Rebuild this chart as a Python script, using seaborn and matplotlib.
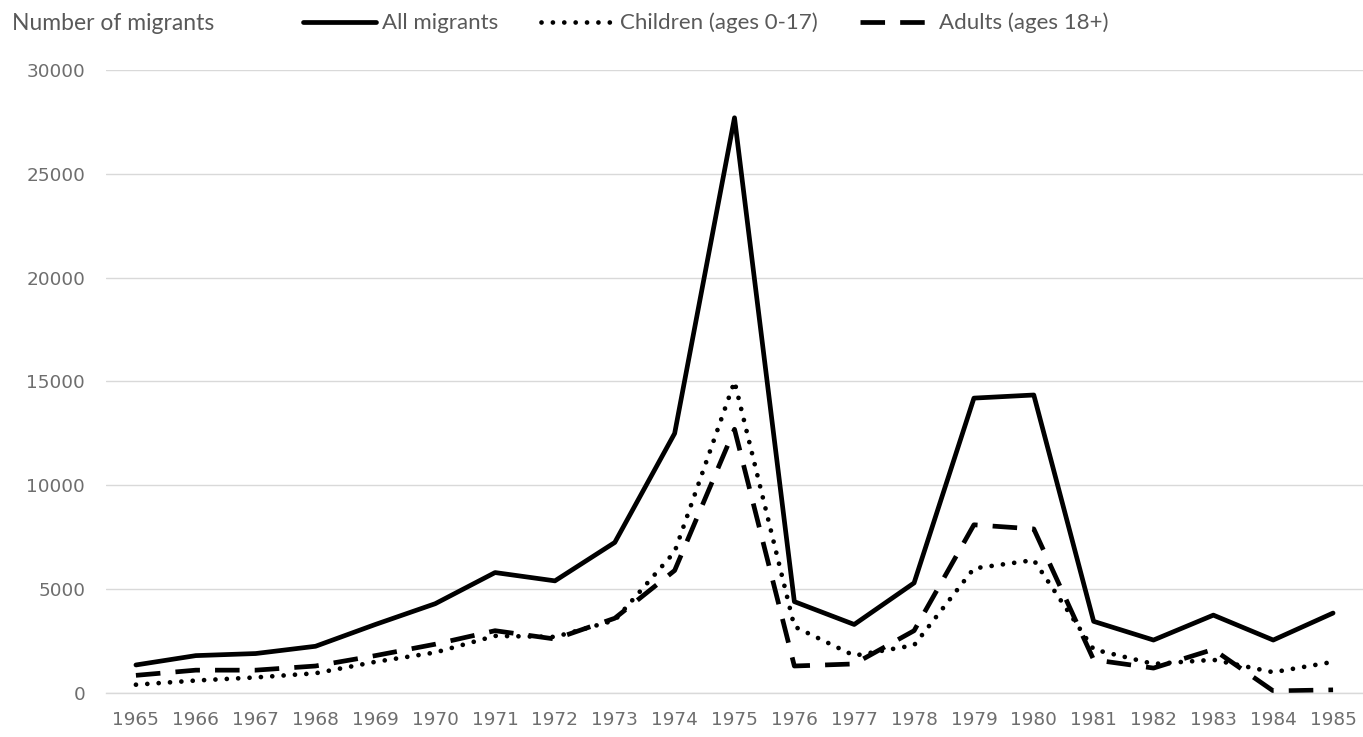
import matplotlib
matplotlib.use('Agg')
import matplotlib.pyplot as plt
import seaborn as sns
import pandas as pd
import numpy as np

years = [str(y) for y in range(1965, 1986)]
all_migrants = [1350, 1800, 1900, 2250, 3300, 4300, 5800, 5400, 7250, 12500, 27700,
                4400, 3300, 5300, 14200, 14350, 3450, 2550, 3750, 2550, 3850]
children = [400, 600, 750, 950, 1500, 1950, 2750, 2700, 3500, 6800, 15000,
            3200, 1800, 2300, 6000, 6400, 2100, 1400, 1600, 1000, 1500]
adults = [850, 1100, 1100, 1300, 1800, 2350, 3000, 2600, 3600, 5900, 12700,
          1300, 1400, 3000, 8100, 7900, 1600, 1200, 2100, 100, 150]

series_names = ['All migrants', 'Children (ages 0-17)', 'Adults (ages 18+)']

df = pd.DataFrame({'year': years, 'All migrants': all_migrants,
                   'Children (ages 0-17)': children, 'Adults (ages 18+)': adults})
df['pos'] = np.arange(len(years))

sns.set_style('white')
plt.rcParams['font.family'] = ['DejaVu Sans']

fig = plt.figure(figsize=(13.63, 7.37), dpi=100)
ax = fig.add_axes([106 / 1363, 1 - 693 / 737, 1 - 106 / 1363, (693 - 70) / 737])

grey_text = '#595959'
tick_text = '#6e6e6e'
grid_col = '#d9d9d9'
label_font = ['Lato', 'DejaVu Sans']

styles = {
    'All migrants': dict(linestyle='-'),
    'Children (ages 0-17)': dict(linestyle=(0, (0.01, 2.4)), dash_capstyle='round'),
    'Adults (ages 18+)': dict(linestyle=(0, (5.2, 3.2))),
}

for name in series_names:
    sns.lineplot(x=df['pos'], y=df[name], ax=ax, color='black', linewidth=3.4,
                 label=name, **styles[name])

ax.set_xlim(-0.5, len(years) - 0.5)
ax.set_ylim(0, 30000)
ax.set_yticks(range(0, 30001, 5000))
ax.set_xticks(df['pos'])
ax.set_xticklabels(years)
ax.set_xticks(np.arange(-0.5, len(years), 1), minor=True)
ax.tick_params(axis='x', which='major', length=0, pad=13, labelsize=13.3, labelcolor=tick_text)
ax.tick_params(axis='x', which='minor', length=6, color=grid_col, width=1)
ax.tick_params(axis='y', length=0, pad=15, labelsize=13.3, labelcolor=tick_text)
ax.yaxis.grid(True, color=grid_col, linewidth=1)
ax.set_axisbelow(True)
for s in ['top', 'right', 'left']:
    ax.spines[s].set_visible(False)
ax.spines['bottom'].set_color(grid_col)
ax.spines['bottom'].set_linewidth(1)
ax.set_xlabel('')
ax.set_ylabel('')

handles, labels = ax.get_legend_handles_labels()
ax.legend_.remove()
leg = fig.legend(handles, labels, loc='center left', bbox_to_anchor=(303 / 1363, 1 - 23 / 737),
                 ncol=3, frameon=False, handlelength=3.3, handletextpad=0.27,
                 columnspacing=1.9, borderaxespad=0, borderpad=0,
                 prop={'family': label_font, 'size': 16})
for t in leg.get_texts():
    t.set_color(grey_text)

fig.text(12 / 1363, 1 - 23 / 737, 'Number of migrants', ha='left', va='center',
         fontsize=16.5, family=label_font, color=grey_text)

fig.savefig('out.png', dpi=100)
